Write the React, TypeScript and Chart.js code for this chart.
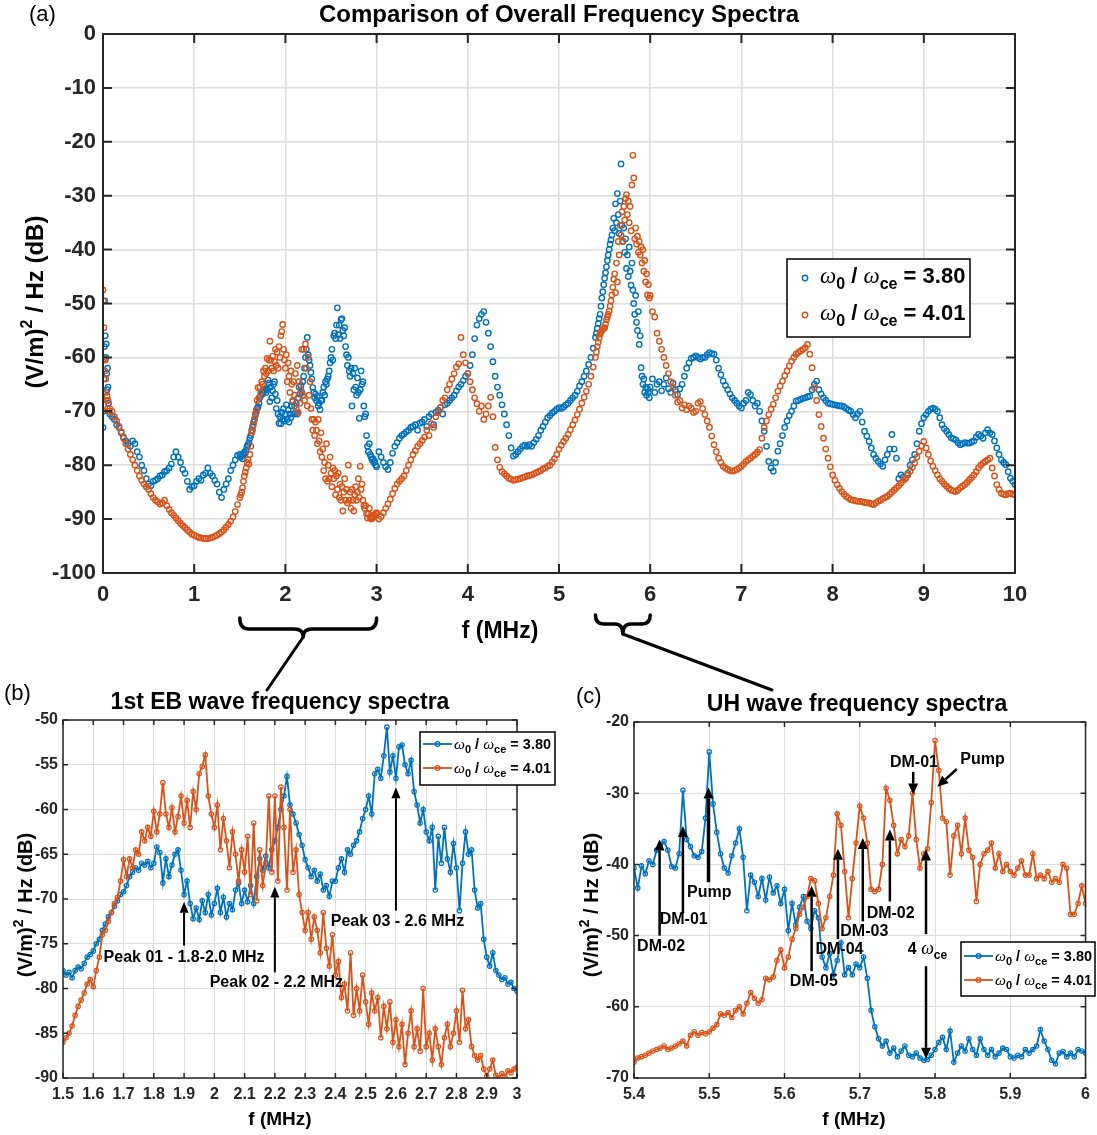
import React, { useEffect, useRef } from 'react';
import { Chart, registerables } from 'chart.js';

Chart.register(...registerables);

const FONT = '"Liberation Sans", Arial, Helvetica, sans-serif';
const SERIF = '"Liberation Serif", "Times New Roman", serif';
const BLUE = '#0072BD';
const ORANGE = '#D95319';
const AXIS = '#262626';
const GRID = '#dcdcdc';

const SERIES_RATIOS = ['3.80', '4.01'];
const TITLE_A = 'Comparison of Overall Frequency Spectra';
const TITLE_B = '1st EB wave frequency spectra';
const TITLE_C = 'UH wave frequency spectra';
const ZOOM_B = [1.5, 3.0];
const ZOOM_C = [5.4, 6.0];

// ---------------- Panel (b) data: 1.5 - 3.0 MHz, 0.01 MHz bins ----------------
const B_START = 1.5;
const B_STEP = 0.01;
const bBlue = [
  -78.0, -78.5, -78.2, -78.8, -78.0, -77.6, -77.8, -77.2, -76.5, -76.2,
  -75.8, -75.0, -74.5, -73.5, -72.8, -72.0, -71.5, -70.8, -70.2, -69.5,
  -69.2, -68.5, -67.5, -67.0, -66.5, -66.8, -66.0, -66.2, -65.8, -66.5,
  -66.0, -64.2, -64.8, -68.2, -65.5, -67.5, -66.2, -65.0, -64.5, -66.8,
  -69.5, -68.0, -70.5, -72.2, -71.0, -72.3, -70.2, -71.5, -69.5, -71.8,
  -70.5, -68.8, -71.5, -69.8, -72.0, -70.5, -71.2, -69.0, -68.2, -70.5,
  -69.0, -70.3, -68.5, -70.5, -67.5, -65.5, -66.8, -65.2, -66.5, -64.5,
  -63.5, -62.0, -60.0, -58.5, -56.3, -59.5, -60.5, -61.5, -62.8, -64.0,
  -65.6, -66.5, -67.5, -66.8, -68.0, -67.2, -69.0, -68.5, -69.7, -68.0,
  -68.0, -66.5, -65.5, -67.0, -64.5, -65.0, -64.0, -63.5, -62.5, -61.0,
  -60.0, -58.5, -60.5, -56.0, -55.5, -56.5, -54.0, -50.8, -55.8, -54.0,
  -56.5, -53.0, -52.8, -55.0, -56.0, -54.5, -58.0, -59.5, -61.5, -60.0,
  -62.5, -63.5, -62.0, -69.0, -63.0, -66.0, -62.0, -65.5, -67.0, -63.8,
  -66.5, -71.3, -66.0, -62.5, -65.0, -64.5, -69.0, -71.0, -70.5, -74.5,
  -76.5, -77.5, -76.0, -78.0, -78.5, -79.0, -78.8, -79.5, -79.3, -80.0,
  -80.3,
];
const bOrange = [
  -86.0, -85.5, -85.0, -84.2, -83.0, -82.0, -81.3, -80.5, -79.5, -79.0,
  -79.8, -78.0, -76.5, -74.0, -73.5, -72.5, -71.5, -70.5, -69.8, -68.0,
  -65.6, -67.5, -65.5, -66.5, -64.5, -65.0, -62.5, -63.5, -62.0, -63.0,
  -60.2, -62.5, -60.5, -57.0, -60.5, -62.0, -59.8, -62.5, -60.8, -58.5,
  -61.5, -59.0, -62.0, -58.0, -60.0, -56.0, -55.2, -53.9, -58.5, -60.5,
  -62.0, -59.5, -64.5, -61.0, -63.5, -66.5, -62.5, -65.0, -68.0, -64.5,
  -67.0, -63.0, -69.5, -61.5, -70.2, -64.5, -68.5, -66.0, -58.5, -67.0,
  -58.5, -68.0, -57.5, -62.0, -69.0, -60.0, -67.0, -64.5, -69.5, -71.5,
  -73.5, -71.5, -74.5, -72.0, -73.5, -76.0, -71.5, -75.5, -77.5, -74.0,
  -78.5, -77.0, -81.0, -79.5, -82.5, -76.0, -83.0, -80.0, -82.5, -78.5,
  -81.5, -84.0, -80.5, -82.5, -81.0, -85.5, -82.0, -84.5, -81.5, -86.0,
  -83.5, -86.5, -84.0, -88.5, -85.0, -82.5, -86.5, -84.5, -87.0, -80.0,
  -86.5, -85.0, -88.0, -84.5, -86.5, -88.5, -85.5, -84.0, -86.5, -85.0,
  -82.5, -86.0, -80.2, -84.5, -83.5, -86.5, -87.5, -88.0, -87.5, -89.0,
  -89.8, -89.0, -88.0, -89.7, -90.0, -89.5, -89.8, -89.2, -89.4, -89.0,
  -88.8,
];

// ---------------- Panel (c) data: 5.4 - 6.0 MHz, 0.005 MHz bins ----------------
const C_START = 5.4;
const C_STEP = 0.005;
const cBlue = [
  -40.5, -43.3, -40.2, -41.3, -39.5, -40.0, -38.0, -37.2, -36.8, -38.0,
  -40.3, -40.5, -38.5, -29.6, -36.5, -37.5, -38.8, -39.0, -38.2, -33.5,
  -24.2, -31.5, -35.5, -38.5, -40.5, -41.2, -38.8, -37.0, -35.0, -39.0,
  -46.5, -41.5, -42.5, -44.5, -42.0, -45.0, -41.8, -44.0, -43.0, -45.5,
  -43.5, -49.3, -45.5, -48.5, -46.0, -44.5, -48.0, -49.0, -46.5, -47.5,
  -53.0, -54.5, -52.5, -55.5, -53.5, -51.0, -55.5, -54.5, -55.5, -54.0,
  -54.5, -53.0, -56.0, -60.5, -62.8, -64.5, -65.5, -64.8, -66.5, -65.8,
  -67.0, -66.2, -65.5, -66.8, -67.0, -66.5, -67.2, -67.5, -67.4, -66.8,
  -66.0, -65.0, -64.3, -66.0, -63.4, -67.8, -66.5, -65.5, -66.2, -64.5,
  -66.0, -66.8, -64.5, -66.0, -66.8, -66.0, -67.0, -66.5, -65.8, -66.0,
  -67.0, -67.2, -66.8, -67.0, -66.0, -66.5, -66.0, -65.5, -63.2, -64.8,
  -66.0, -67.5, -68.0, -66.5, -66.3, -67.0, -66.5, -67.0, -66.0, -66.2,
  -66.5,
];
const cOrange = [
  -67.8, -67.2, -67.0, -66.8, -66.5, -66.2, -66.0, -65.8, -65.5, -66.0,
  -65.8, -65.5, -65.2, -64.8, -65.5, -64.0, -63.5, -64.0, -63.6, -63.8,
  -63.5, -63.0, -62.5, -61.0, -61.2, -60.8, -61.5, -60.5, -60.0, -61.0,
  -59.5, -58.0, -58.8, -59.5, -59.0, -56.0, -56.2, -55.8, -53.5, -52.0,
  -54.5, -53.0, -50.5, -49.0, -47.0, -46.0, -44.5, -42.0, -42.3, -45.5,
  -49.0, -47.5, -44.5, -41.5, -32.9, -34.5, -41.0, -47.5, -42.0, -37.0,
  -31.8, -33.5, -37.0, -43.5, -43.8, -43.5, -40.0, -29.3, -31.0, -34.5,
  -38.5, -36.5, -37.5, -36.0, -30.0, -36.5, -40.5, -38.5, -37.8, -31.3,
  -22.6, -26.8, -33.5, -34.0, -41.5, -36.0, -34.5, -38.5, -33.5, -38.0,
  -39.0, -45.2, -40.0, -38.5, -38.0, -37.0, -40.5, -38.5, -41.0, -40.0,
  -41.0, -41.5, -40.5, -39.5, -41.5, -41.5, -38.5, -42.0, -41.5, -42.0,
  -41.0, -42.5, -42.0, -42.5, -40.0, -40.5, -47.0, -47.0, -45.5, -43.0,
  -45.5,
];

// ---------------- Panel (a) data (1.5-3.0 MHz reuses panel (b) bins) ----------------
const A_DC_START = 0;
const A_DC_STEP = 0.005;
const aBlueDC = [-73.0, -70.0, -64.0, -58.0, -49.5, -56.0, -60.0, -57.5, -63.0, -66.0, -62.0, -65.5, -68.5];
const aOrangeDC = [-47.5, -49.5, -54.5, -60.3, -62.5, -60.5, -64.0, -66.5, -68.0, -67.2, -69.5, -68.0, -70.0];

const A_STEP = 0.025;
const A_LOW_START = 0.075;
const aBlueLow = [
  -70.5, -71.0, -71.5, -72.5, -73.0, -74.0, -74.8, -75.5, -76.0, -76.5,
  -75.5, -76.0, -77.5, -78.5, -80.0, -81.0, -82.5, -83.5, -83.8, -83.0,
  -82.8, -82.5, -82.0, -81.8, -81.2, -81.0, -80.5, -79.8, -78.5, -77.5,
  -78.5, -79.5, -80.8, -81.5, -83.0, -84.5, -84.0, -83.8, -83.0, -82.5,
  -82.8, -81.8, -81.5, -80.5, -81.5, -82.0, -82.8, -83.5, -85.0, -86.0,
  -84.5, -83.5, -82.5, -81.0, -80.0, -79.0, -78.2,
];
const aOrangeLow = [
  -69.5, -70.0, -71.0, -71.8, -72.8, -73.8, -75.0, -76.0, -77.0, -78.0,
  -79.0, -80.0, -81.0, -82.0, -82.8, -83.5, -84.0, -84.5, -85.3, -86.0,
  -86.5, -86.8, -87.2, -87.0, -86.5, -87.5, -88.2, -88.8, -89.3, -89.8,
  -90.3, -90.8, -91.2, -91.6, -92.0, -92.4, -92.8, -93.0, -93.2, -93.4,
  -93.5, -93.6, -93.6, -93.6, -93.5, -93.4, -93.2, -93.0, -92.7, -92.4,
  -92.0, -91.5, -91.0, -90.4, -89.6, -88.6, -87.3,
];

const A_MID_START = 3.025;
const aBlueMid = [
  -77.5, -78.5, -79.5, -80.3, -80.8, -79.5, -77.8, -76.5, -75.8, -75.0,
  -74.5, -74.2, -73.8, -73.5, -73.0, -72.8, -72.5, -73.5, -72.2, -72.0,
  -71.5, -72.8, -71.0, -70.5, -72.5, -70.2, -69.8, -69.3, -70.5, -68.8,
  -68.5, -68.0, -67.5, -67.0, -66.2, -65.5, -65.0, -64.3, -63.5, -63.0,
  -61.5, -59.5, -56.5, -54.0, -52.8, -52.0, -51.5, -53.5, -55.5, -58.0,
  -60.8, -63.5, -65.5, -67.0, -68.8, -70.5, -72.5, -74.5, -76.8, -78.3,
  -78.0, -77.5, -77.0, -76.5, -76.3, -76.5, -76.2, -76.5, -75.8, -75.2,
  -74.5, -73.5, -72.8, -72.0, -71.2, -70.8, -70.3, -70.0, -69.6, -69.3,
  -69.5, -69.2, -68.8, -68.5, -68.0, -67.5, -67.0, -66.3, -65.3, -64.5,
  -63.5, -62.5, -61.3, -60.0, -58.3,
];
const aOrangeMid = [
  -90.0, -89.5, -88.8, -88.0, -87.2, -86.3, -85.3, -84.3, -83.5, -83.0,
  -82.5, -82.0, -81.0, -80.0, -79.0, -78.0, -77.3, -76.5, -76.0, -75.4,
  -74.8, -73.5, -74.5, -72.3, -73.0, -71.0, -70.2, -69.3, -68.0, -67.5,
  -66.0, -65.0, -64.0, -63.0, -61.8, -61.2, -56.3, -59.5, -61.0, -63.0,
  -64.5, -66.0, -67.5, -68.6, -70.0, -69.0, -71.5, -70.5, -69.0, -67.4,
  -71.0, -76.7, -79.0, -80.4, -81.2, -81.6, -82.0, -82.4, -82.6, -82.8,
  -82.7, -82.6, -82.5, -82.3, -82.2, -82.0, -81.9, -81.8, -81.6, -81.4,
  -81.2, -81.0, -80.7, -80.5, -80.2, -80.0, -79.4, -78.8, -78.0, -77.0,
  -76.3, -75.6, -75.0, -74.3, -73.4, -72.5, -71.6, -70.6, -69.6, -68.5,
  -67.4, -66.3, -65.0, -63.5, -61.8,
];

const A_PEAK_START = 5.4;
const A_PEAK_STEP = 0.01;
const aBluePeak = [
  -56.3, -55.5, -54.6, -53.7, -52.8, -52.0, -50.5, -49.0, -47.8, -46.5,
  -45.3, -44.3, -43.2, -42.0, -41.0, -40.0, -39.0, -38.2, -37.3, -36.0,
  -34.2, -36.5, -31.5, -35.0, -29.6, -33.5, -37.0, -31.0, -24.1, -35.5,
  -38.5, -36.0, -40.5, -38.0, -43.5, -41.0, -45.0, -39.5, -44.0, -46.6,
  -42.5, -47.5, -50.0, -52.0, -48.5, -53.5, -55.0, -51.5, -57.6, -56.0,
  -61.9, -63.5, -65.0, -64.0, -66.5, -65.5, -67.0, -65.8, -66.5, -67.5,
];
const aOrangePeak = [
  -60.0, -59.0, -58.0, -57.2, -56.4, -55.7, -55.3, -55.0, -54.8, -54.6,
  -54.5, -53.8, -53.0, -52.5, -52.0, -51.4, -50.5, -49.5, -48.4, -47.0,
  -45.5, -44.5, -48.0, -42.5, -46.0, -38.5, -41.0, -35.5, -37.3, -33.0,
  -38.5, -32.0, -34.5, -30.5, -29.8, -33.5, -31.0, -35.0, -32.0, -36.5,
  -28.0, -22.5, -26.7, -38.0, -36.0, -39.0, -37.5, -40.5, -38.5, -41.0,
  -39.5, -42.5, -40.0, -44.0, -42.0, -46.0, -44.5, -48.4, -46.5, -49.0,
];

const A_HIGH_START = 6.0;
const aBlueHigh = [
  -65.5, -64.0, -66.5, -65.0, -64.5, -66.2, -65.0, -63.8, -65.8, -66.5,
  -64.8, -66.0, -66.9, -65.8, -65.0, -63.5, -62.0, -61.0, -60.2, -60.0,
  -59.7, -60.0, -60.3, -60.0, -60.0, -59.5, -59.1, -59.3, -59.4, -60.5,
  -62.0, -63.2, -64.4, -65.2, -66.0, -66.8, -67.5, -68.0, -68.5, -69.0,
  -69.4, -68.5, -68.0, -66.5, -66.9, -68.0, -69.0, -68.5, -70.0, -71.8,
  -73.7, -76.5, -79.3, -80.5, -81.1, -79.5, -77.4, -76.0, -74.5, -73.0,
  -71.8, -70.8, -70.0, -69.0, -68.1, -68.0, -67.8, -67.6, -67.5, -67.3,
  -67.2, -66.0, -65.0, -64.4, -66.0, -66.8, -67.5, -68.0, -68.5, -68.6,
  -68.7, -68.8, -68.9, -69.0, -69.0, -69.2, -69.5, -69.8, -70.0, -70.6,
  -71.2, -70.5, -70.0, -72.0, -73.7, -74.6, -75.6, -76.8, -78.0, -78.7,
  -79.3, -79.8, -80.2, -79.0, -78.0, -77.0, -74.3, -77.0, -78.7, -82.5,
  -81.8, -82.2, -82.4, -81.5, -80.0, -79.0, -78.0, -76.0, -73.7, -72.3,
  -71.2, -70.6, -70.0, -69.6, -69.4, -69.6, -70.0, -71.2, -72.5, -73.2,
  -73.7, -74.3, -74.9, -75.1, -75.3, -75.8, -76.2, -76.0, -75.8, -75.9,
  -75.9, -75.7, -75.5, -74.8, -74.3, -74.6, -75.0, -74.0, -73.4, -74.0,
  -74.3, -75.5, -76.8, -78.0, -79.0, -79.5, -79.9, -81.2, -82.4, -83.0,
  -83.6,
];
const aOrangeHigh = [
  -48.5, -51.5, -52.5, -55.5, -57.0, -58.5, -60.0, -61.5, -63.0, -64.5,
  -65.6, -67.0, -68.3, -68.0, -69.4, -68.8, -69.7, -69.0, -69.4, -70.2,
  -70.0, -68.5, -68.2, -69.5, -70.6, -71.8, -73.0, -74.6, -76.2, -77.5,
  -78.7, -79.5, -80.2, -80.5, -80.8, -81.0, -81.1, -81.0, -80.8, -80.5,
  -80.2, -79.8, -79.3, -79.0, -78.7, -78.3, -78.0, -77.6, -77.1, -75.0,
  -73.0, -71.8, -70.6, -69.6, -68.7, -67.5, -66.3, -65.3, -64.4, -63.4,
  -62.5, -61.6, -60.7, -60.0, -59.4, -59.1, -58.8, -58.5, -58.2, -57.6,
  -59.4, -61.9, -65.6, -68.0, -70.6, -72.8, -75.0, -77.0, -78.7, -80.3,
  -81.8, -82.8, -83.6, -84.3, -84.9, -85.4, -85.8, -86.1, -86.4, -86.5,
  -86.6, -86.7, -86.7, -86.8, -86.9, -87.0, -87.0, -87.2, -87.3, -87.0,
  -86.7, -86.5, -86.2, -86.0, -85.8, -85.4, -85.0, -84.6, -84.2, -83.8,
  -83.3, -82.8, -82.4, -81.8, -81.1, -80.4, -79.6, -78.5, -77.4, -76.4,
  -75.6, -76.8, -78.0, -79.2, -80.2, -81.0, -81.8, -82.5, -83.0, -83.5,
  -83.9, -84.3, -84.6, -84.8, -84.9, -84.6, -84.2, -83.9, -83.6, -83.2,
  -82.7, -82.3, -81.8, -81.2, -80.5, -80.0, -79.6, -79.3, -79.0, -78.7,
  -80.5, -82.0, -83.6, -84.5, -85.2, -85.4, -85.5, -85.3, -85.2, -85.4,
  -85.5,
];

// ---------------- Annotations (data coordinates) ----------------
const bArrows = [
  { x1: 1.9, y1: -75.2, x2: 1.9, y2: -70.3 },
  { x1: 2.2, y1: -78.2, x2: 2.2, y2: -68.6 },
  { x1: 2.6, y1: -71.3, x2: 2.6, y2: -57.5 },
];
const bNotes = [
  { t: 'Peak 01 - 1.8-2.0 MHz', x: 1.9, y: -76.5 },
  { t: 'Peak 02 - 2.2 MHz', x: 2.205, y: -79.3 },
  { t: 'Peak 03 - 2.6 MHz', x: 2.605, y: -72.5 },
];
const cArrows = [
  { x1: 5.434, y1: -50.0, x2: 5.434, y2: -36.5, w: 2.5 },
  { x1: 5.465, y1: -46.9, x2: 5.465, y2: -34.6, w: 2.5 },
  { x1: 5.499, y1: -42.5, x2: 5.499, y2: -29.2, w: 3.5 },
  { x1: 5.636, y1: -55.0, x2: 5.636, y2: -43.0, w: 2.5 },
  { x1: 5.671, y1: -50.5, x2: 5.671, y2: -37.8, w: 2.5 },
  { x1: 5.704, y1: -48.0, x2: 5.704, y2: -36.3, w: 2.5 },
  { x1: 5.740, y1: -45.2, x2: 5.740, y2: -35.1, w: 2.5 },
  { x1: 5.771, y1: -27.0, x2: 5.771, y2: -30.2, w: 2.5 },
  { x1: 5.829, y1: -26.6, x2: 5.803, y2: -29.1, w: 2.5 },
  { x1: 5.788, y1: -49.8, x2: 5.788, y2: -37.9, w: 2.5 },
  { x1: 5.788, y1: -54.3, x2: 5.788, y2: -67.3, w: 2.5 },
];
const cNotes = [
  { t: 'DM-02', x: 5.436, y: -51.5 },
  { t: 'DM-01', x: 5.466, y: -47.7 },
  { t: 'Pump', x: 5.5, y: -44.0 },
  { t: 'DM-05', x: 5.639, y: -56.5 },
  { t: 'DM-04', x: 5.673, y: -52.0 },
  { t: 'DM-03', x: 5.706, y: -49.5 },
  { t: 'DM-02', x: 5.741, y: -46.9 },
  { t: 'DM-01', x: 5.772, y: -25.7 },
  { t: 'Pump', x: 5.863, y: -25.3 },
];
const cHarmonic = { x: 5.79, y: -51.8 };

// ---------------- helpers ----------------
type Run = { t: string; f: string; dy?: number };
const bold = (px: number) => `bold ${px}px ${FONT}`;
const omegaFont = (px: number) => `italic ${px}px ${SERIF}`;

function seg(start: number, step: number, vals: number[]) {
  return vals.map((v, i) => ({ x: Math.round((start + i * step) * 10000) / 10000, y: v }));
}

function drawRuns(ctx: CanvasRenderingContext2D, runs: Run[], x: number, y: number, align: string) {
  let w = 0;
  for (const r of runs) { ctx.font = r.f; w += ctx.measureText(r.t).width; }
  let cx = align === 'center' ? x - w / 2 : align === 'right' ? x - w : x;
  ctx.textAlign = 'left';
  ctx.textBaseline = 'alphabetic';
  for (const r of runs) {
    ctx.font = r.f;
    ctx.fillText(r.t, cx, y + (r.dy || 0));
    cx += ctx.measureText(r.t).width;
  }
}

function yLabelRuns(px: number): Run[] {
  return [
    { t: '(V/m)', f: bold(px) },
    { t: '2', f: bold(Math.round(px * 0.68)), dy: -px * 0.45 },
    { t: ' / Hz (dB)', f: bold(px) },
  ];
}

function legendRuns(v: string, px: number, sub: number, dy: number): Run[] {
  return [
    { t: 'ω', f: omegaFont(px + 1) },
    { t: '0', f: bold(sub), dy },
    { t: ' / ', f: bold(px) },
    { t: 'ω', f: omegaFont(px + 1) },
    { t: 'ce', f: bold(sub), dy },
    { t: ' = ' + v, f: bold(px) },
  ];
}

function drawRotated(ctx: CanvasRenderingContext2D, runs: Run[], cx: number, cy: number, px: number) {
  ctx.save();
  ctx.translate(cx, cy);
  ctx.rotate(-Math.PI / 2);
  drawRuns(ctx, runs, 0, px * 0.36, 'center');
  ctx.restore();
}

function drawFrame(chart: any, tl: number, lw: number) {
  const { ctx, chartArea, scales } = chart;
  const { left, right, top, bottom } = chartArea;
  const x = scales.x, y = scales.y;
  ctx.save();
  ctx.strokeStyle = AXIS;
  ctx.lineWidth = lw;
  ctx.beginPath();
  x.ticks.forEach((t: any) => {
    const px = x.getPixelForValue(t.value);
    ctx.moveTo(px, bottom); ctx.lineTo(px, bottom - tl);
    ctx.moveTo(px, top); ctx.lineTo(px, top + tl);
  });
  y.ticks.forEach((t: any) => {
    const py = y.getPixelForValue(t.value);
    ctx.moveTo(left, py); ctx.lineTo(left + tl, py);
    ctx.moveTo(right, py); ctx.lineTo(right - tl, py);
  });
  ctx.stroke();
  ctx.strokeRect(left, top, right - left, bottom - top);
  ctx.restore();
}

function arrow(ctx: CanvasRenderingContext2D, x1: number, y1: number, x2: number, y2: number, lw: number, hl: number, hw: number) {
  const a = Math.atan2(y2 - y1, x2 - x1);
  const bx = x2 - hl * Math.cos(a), by = y2 - hl * Math.sin(a);
  ctx.strokeStyle = '#000';
  ctx.fillStyle = '#000';
  ctx.lineWidth = lw;
  ctx.beginPath(); ctx.moveTo(x1, y1); ctx.lineTo(bx, by); ctx.stroke();
  ctx.beginPath();
  ctx.moveTo(x2, y2);
  ctx.lineTo(bx + hw * Math.sin(a), by - hw * Math.cos(a));
  ctx.lineTo(bx - hw * Math.sin(a), by + hw * Math.cos(a));
  ctx.closePath();
  ctx.fill();
}

function brace(ctx: CanvasRenderingContext2D, x1: number, x2: number, xm: number, yTip: number, yBar: number, yCusp: number, r: number) {
  ctx.beginPath();
  ctx.moveTo(x1, yTip);
  ctx.quadraticCurveTo(x1, yBar, x1 + r, yBar);
  ctx.lineTo(xm - r, yBar);
  ctx.quadraticCurveTo(xm, yBar, xm, yCusp);
  ctx.quadraticCurveTo(xm, yBar, xm + r, yBar);
  ctx.lineTo(x2 - r, yBar);
  ctx.quadraticCurveTo(x2, yBar, x2, yTip);
  ctx.stroke();
}

function lineLegend(ctx: CanvasRenderingContext2D, box: any, rows: any[], px: number) {
  ctx.fillStyle = '#fff';
  ctx.fillRect(box.x, box.y, box.w, box.h);
  ctx.strokeStyle = '#000';
  ctx.lineWidth = 1.5;
  ctx.strokeRect(box.x, box.y, box.w, box.h);
  rows.forEach((r) => {
    ctx.strokeStyle = r.c;
    ctx.lineWidth = 1.8;
    ctx.beginPath(); ctx.moveTo(box.x + 3, r.y); ctx.lineTo(box.x + 32, r.y); ctx.stroke();
    ctx.beginPath(); ctx.arc(box.x + 17.5, r.y, 2.4, 0, Math.PI * 2); ctx.lineWidth = 1.3; ctx.stroke();
    ctx.fillStyle = '#000';
    drawRuns(ctx, legendRuns(r.v, px, Math.round(px * 0.74), 4), box.x + 34, r.y + 5, 'left');
  });
}

function axisCfg(min: number, max: number, step: number, size: number, pad: number, gw: number, fit: (s: any) => void, fmt?: (v: number) => string) {
  const ticks: any = {
    stepSize: step,
    font: { family: FONT, size, weight: 'bold' },
    color: AXIS,
    padding: pad,
    autoSkip: false,
    maxRotation: 0,
    minRotation: 0,
  };
  if (fmt) ticks.callback = fmt;
  return {
    type: 'linear',
    min, max,
    ticks,
    grid: { color: GRID, lineWidth: gw, drawTicks: false },
    border: { display: false },
    afterFit: fit,
  };
}

const oneDec = (v: number) => String(Math.round(v * 10) / 10);

// ---------------- plugins ----------------
const decoA = {
  id: 'decoA',
  afterDraw(chart: any) {
    const ctx: CanvasRenderingContext2D = chart.ctx;
    const { left, right } = chart.chartArea;
    drawFrame(chart, 9, 2);
    ctx.save();
    ctx.fillStyle = '#000';
    ctx.font = bold(24);
    ctx.textAlign = 'center';
    ctx.textBaseline = 'alphabetic';
    ctx.fillText(TITLE_A, (left + right) / 2, 22);
    ctx.font = `22px ${FONT}`;
    ctx.textAlign = 'left';
    ctx.fillText('(a)', 29, 21);
    drawRotated(ctx, yLabelRuns(24), 34, 302, 24);
    ctx.font = bold(23);
    ctx.textAlign = 'center';
    ctx.fillText('f (MHz)', 500, 638);

    // legend
    const box = { x: 787, y: 259, w: 183, h: 78 };
    ctx.fillStyle = '#fff';
    ctx.fillRect(box.x, box.y, box.w, box.h);
    ctx.strokeStyle = '#000';
    ctx.lineWidth = 1.5;
    ctx.strokeRect(box.x, box.y, box.w, box.h);
    [{ c: BLUE, v: SERIES_RATIOS[0], y: 283 }, { c: ORANGE, v: SERIES_RATIOS[1], y: 320 }].forEach((r) => {
      ctx.strokeStyle = r.c;
      ctx.lineWidth = 1.4;
      ctx.beginPath(); ctx.arc(805, r.y - 5, 2.7, 0, Math.PI * 2); ctx.stroke();
      ctx.fillStyle = '#000';
      drawRuns(ctx, legendRuns(r.v, 22, 16, 6), 820, r.y, 'left');
    });

    // braces + connectors
    const xs = chart.scales.x;
    ctx.strokeStyle = '#000';
    ctx.lineCap = 'round';
    ctx.lineJoin = 'round';
    ctx.lineWidth = 3.5;
    const b1 = xs.getPixelForValue(ZOOM_B[0]), b2 = xs.getPixelForValue(ZOOM_B[1]);
    const m1 = (b1 + b2) / 2 - 5;
    brace(ctx, b1, b2, m1, 618, 629, 637, 9);
    const c1 = xs.getPixelForValue(ZOOM_C[0]), c2 = xs.getPixelForValue(ZOOM_C[1]);
    const m2 = (c1 + c2) / 2;
    brace(ctx, c1, c2, m2, 615, 624, 634, 8);
    ctx.lineWidth = 3;
    ctx.beginPath(); ctx.moveTo(m1, 637); ctx.lineTo(267, 690); ctx.stroke();
    ctx.beginPath(); ctx.moveTo(m2, 634); ctx.lineTo(772, 690); ctx.stroke();
    ctx.restore();
  },
};

const decoB = {
  id: 'decoB',
  afterDraw(chart: any) {
    const ctx: CanvasRenderingContext2D = chart.ctx;
    const OX = 0, OY = 680;
    drawFrame(chart, 5, 1.5);
    const xs = chart.scales.x, ys = chart.scales.y;
    ctx.save();
    bArrows.forEach((a) => arrow(ctx, xs.getPixelForValue(a.x1), ys.getPixelForValue(a.y1), xs.getPixelForValue(a.x2), ys.getPixelForValue(a.y2), 2, 11, 4.5));
    ctx.fillStyle = '#000';
    ctx.font = bold(16);
    ctx.textAlign = 'center';
    ctx.textBaseline = 'middle';
    bNotes.forEach((n) => ctx.fillText(n.t, xs.getPixelForValue(n.x), ys.getPixelForValue(n.y)));
    ctx.translate(-OX, -OY);
    ctx.textBaseline = 'alphabetic';
    ctx.font = bold(23);
    ctx.fillText(TITLE_B, 280, 709);
    ctx.font = `22px ${FONT}`;
    ctx.textAlign = 'left';
    ctx.fillText('(b)', 4, 700);
    ctx.font = bold(19);
    ctx.textAlign = 'center';
    ctx.fillText('f (MHz)', 280, 1125);
    drawRotated(ctx, yLabelRuns(20), 25, 905, 20);
    lineLegend(ctx, { x: 420, y: 732, w: 135, h: 53 }, [{ c: BLUE, v: SERIES_RATIOS[0], y: 744 }, { c: ORANGE, v: SERIES_RATIOS[1], y: 768 }], 14.5);
    ctx.restore();
  },
};

const decoC = {
  id: 'decoC',
  afterDraw(chart: any) {
    const ctx: CanvasRenderingContext2D = chart.ctx;
    const OX = 560, OY = 680;
    drawFrame(chart, 5, 1.5);
    const xs = chart.scales.x, ys = chart.scales.y;
    ctx.save();
    cArrows.forEach((a) => arrow(ctx, xs.getPixelForValue(a.x1), ys.getPixelForValue(a.y1), xs.getPixelForValue(a.x2), ys.getPixelForValue(a.y2), a.w, 11, 5));
    ctx.fillStyle = '#000';
    ctx.font = bold(16);
    ctx.textAlign = 'center';
    ctx.textBaseline = 'middle';
    cNotes.forEach((n) => ctx.fillText(n.t, xs.getPixelForValue(n.x), ys.getPixelForValue(n.y)));
    drawRuns(ctx, [
      { t: '4 ', f: bold(16) },
      { t: 'ω', f: omegaFont(18) },
      { t: 'ce', f: bold(12), dy: 5 },
    ], xs.getPixelForValue(cHarmonic.x), ys.getPixelForValue(cHarmonic.y) + 6, 'center');
    ctx.translate(-OX, -OY);
    ctx.fillStyle = '#000';
    ctx.textBaseline = 'alphabetic';
    ctx.textAlign = 'center';
    ctx.font = bold(23);
    ctx.fillText(TITLE_C, 857, 711);
    ctx.font = `22px ${FONT}`;
    ctx.textAlign = 'left';
    ctx.fillText('(c)', 576, 703);
    ctx.font = bold(19);
    ctx.textAlign = 'center';
    ctx.fillText('f (MHz)', 854, 1125);
    drawRotated(ctx, yLabelRuns(20), 591, 905, 20);
    lineLegend(ctx, { x: 961, y: 942, w: 134, h: 54 }, [{ c: BLUE, v: SERIES_RATIOS[0], y: 956 }, { c: ORANGE, v: SERIES_RATIOS[1], y: 980 }], 14.5);
    ctx.restore();
  },
};

// ---------------- configs ----------------
function scatterSet(data: any[], color: string, order: number) {
  return {
    data,
    showLine: false,
    borderColor: color,
    backgroundColor: 'rgba(0,0,0,0)',
    pointBackgroundColor: 'rgba(0,0,0,0)',
    pointBorderColor: color,
    pointRadius: 2.7,
    pointBorderWidth: 1.4,
    pointStyle: 'circle',
    order,
  };
}

function lineSet(data: any[], color: string, order: number) {
  return {
    data,
    borderColor: color,
    backgroundColor: color,
    borderWidth: 1.8,
    pointRadius: 2.2,
    pointBorderWidth: 1.2,
    pointBackgroundColor: 'rgba(0,0,0,0)',
    pointBorderColor: color,
    tension: 0,
    fill: false,
    order,
  };
}

function configA(): any {
  const blue = [
    ...seg(A_DC_START, A_DC_STEP, aBlueDC),
    ...seg(A_LOW_START, A_STEP, aBlueLow),
    ...seg(B_START, B_STEP, bBlue),
    ...seg(A_MID_START, A_STEP, aBlueMid),
    ...seg(A_PEAK_START, A_PEAK_STEP, aBluePeak),
    ...seg(A_HIGH_START, A_STEP, aBlueHigh),
  ];
  const orange = [
    ...seg(A_DC_START, A_DC_STEP, aOrangeDC),
    ...seg(A_LOW_START, A_STEP, aOrangeLow),
    ...seg(B_START, B_STEP, bOrange),
    ...seg(A_MID_START, A_STEP, aOrangeMid),
    ...seg(A_PEAK_START, A_PEAK_STEP, aOrangePeak),
    ...seg(A_HIGH_START, A_STEP, aOrangeHigh),
  ];
  return {
    type: 'scatter',
    data: { datasets: [scatterSet(blue, BLUE, 1), scatterSet(orange, ORANGE, 0)] },
    options: {
      responsive: false,
      animation: false,
      events: [],
      layout: { padding: { left: 0, right: 82, top: 34, bottom: 0 } },
      plugins: { legend: { display: false }, tooltip: { enabled: false }, title: { display: false } },
      scales: {
        x: axisCfg(0, 10, 1, 22, 9, 1.5, (s: any) => { s.height = 127; }),
        y: axisCfg(-100, 0, 10, 22, 7, 1.5, (s: any) => { s.width = 103; }),
      },
    },
    plugins: [decoA],
  };
}

function configB(): any {
  return {
    type: 'line',
    data: { datasets: [lineSet(seg(B_START, B_STEP, bBlue), BLUE, 1), lineSet(seg(B_START, B_STEP, bOrange), ORANGE, 0)] },
    options: {
      responsive: false,
      animation: false,
      events: [],
      layout: { padding: { left: 0, right: 43, top: 40, bottom: 0 } },
      plugins: { legend: { display: false }, tooltip: { enabled: false } },
      scales: {
        x: axisCfg(1.5, 3.0, 0.1, 16, 7, 1, (s: any) => { s.height = 57; }, oneDec),
        y: axisCfg(-90, -50, 5, 16, 5, 1, (s: any) => { s.width = 63; }),
      },
    },
    plugins: [decoB],
  };
}

function configC(): any {
  return {
    type: 'line',
    data: { datasets: [lineSet(seg(C_START, C_STEP, cBlue), BLUE, 1), lineSet(seg(C_START, C_STEP, cOrange), ORANGE, 0)] },
    options: {
      responsive: false,
      animation: false,
      events: [],
      layout: { padding: { left: 0, right: 10, top: 42, bottom: 0 } },
      plugins: { legend: { display: false }, tooltip: { enabled: false } },
      scales: {
        x: axisCfg(5.4, 6.0, 0.1, 16, 7, 1, (s: any) => { s.height = 57; }, oneDec),
        y: axisCfg(-70, -20, 10, 16, 5, 1, (s: any) => { s.width = 74; }),
      },
    },
    plugins: [decoC],
  };
}

export default function App() {
  const aRef = useRef<HTMLCanvasElement>(null);
  const bRef = useRef<HTMLCanvasElement>(null);
  const cRef = useRef<HTMLCanvasElement>(null);

  useEffect(() => {
    const charts: Chart[] = [];
    if (aRef.current) charts.push(new Chart(aRef.current, configA()));
    if (bRef.current) charts.push(new Chart(bRef.current, configB()));
    if (cRef.current) charts.push(new Chart(cRef.current, configC()));
    return () => charts.forEach((c) => c.destroy());
  }, []);

  return (
    <div style={{ position: 'absolute', left: 0, top: 0, width: 1097, height: 1135, background: '#ffffff', overflow: 'hidden' }}>
      <canvas ref={aRef} width={1097} height={700} style={{ position: 'absolute', left: 0, top: 0, width: 1097, height: 700 }} />
      <canvas ref={bRef} width={560} height={455} style={{ position: 'absolute', left: 0, top: 680, width: 560, height: 455 }} />
      <canvas ref={cRef} width={537} height={455} style={{ position: 'absolute', left: 560, top: 680, width: 537, height: 455 }} />
    </div>
  );
}
